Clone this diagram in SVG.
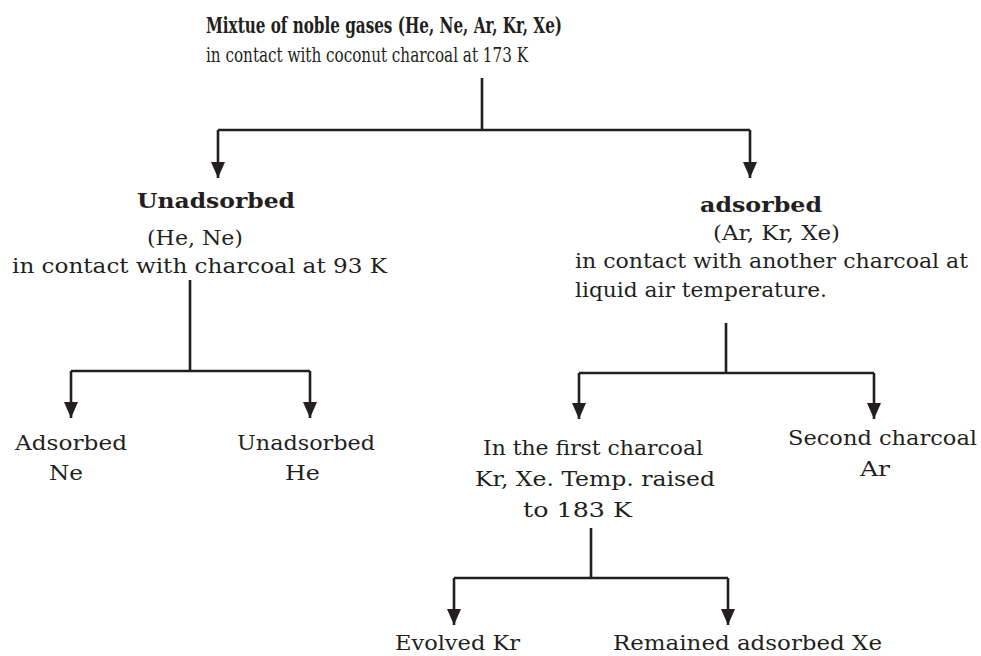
<svg xmlns="http://www.w3.org/2000/svg" width="981" height="656" viewBox="0 0 981 656">
<defs>
<style>
.t{font-family:"DejaVu Serif","Liberation Serif",serif;font-stretch:condensed;font-size:20px;fill:#231f20;}
.b{font-family:"DejaVu Serif","Liberation Serif",serif;font-stretch:condensed;font-size:21px;font-weight:bold;fill:#231f20;}
.c{fill:none;stroke:#231f20;stroke-width:2.6;}
</style>
<marker id="ah" markerUnits="userSpaceOnUse" markerWidth="16" markerHeight="14" viewBox="0 0 16 14" refX="16" refY="7" orient="auto">
<path d="M0 0 L16 7 L0 14 Z" fill="#231f20"/>
</marker>
</defs>
<rect width="981" height="656" fill="#fff"/>
<g id="connectors">
<path class="c" d="M482 78 V130"/>
<path class="c" d="M218 130 H750"/>
<path class="c" d="M218 130 V178" marker-end="url(#ah)"/>
<path class="c" d="M750 130 V178" marker-end="url(#ah)"/>
<path class="c" d="M190 280 V371"/>
<path class="c" d="M71 371 H310"/>
<path class="c" d="M71 371 V418" marker-end="url(#ah)"/>
<path class="c" d="M310 371 V418" marker-end="url(#ah)"/>
<path class="c" d="M726 323 V373"/>
<path class="c" d="M579 373 H874"/>
<path class="c" d="M579 373 V419" marker-end="url(#ah)"/>
<path class="c" d="M874 373 V419" marker-end="url(#ah)"/>
<path class="c" d="M591 528 V578"/>
<path class="c" d="M454 578 H728"/>
<path class="c" d="M454 578 V625" marker-end="url(#ah)"/>
<path class="c" d="M728 578 V625" marker-end="url(#ah)"/>
</g>
<g id="root">
<text class="b" x="206" y="33" style="font-size:23px" textLength="356" lengthAdjust="spacingAndGlyphs">Mixtue of noble gases (He, Ne, Ar, Kr, Xe)</text>
<text class="t" x="206" y="62" textLength="322" lengthAdjust="spacingAndGlyphs">in contact with coconut charcoal at 173 K</text>
</g>
<g id="unadsorbed">
<text class="b" x="137" y="208" textLength="158" lengthAdjust="spacingAndGlyphs">Unadsorbed</text>
<text class="t" x="147" y="245" textLength="96" lengthAdjust="spacingAndGlyphs">(He, Ne)</text>
<text class="t" x="12" y="273" textLength="375" lengthAdjust="spacingAndGlyphs">in contact with charcoal at 93 K</text>
</g>
<g id="adsorbed">
<text class="b" x="700" y="212" textLength="122" lengthAdjust="spacingAndGlyphs">adsorbed</text>
<text class="t" x="713" y="240" textLength="127" lengthAdjust="spacingAndGlyphs">(Ar, Kr, Xe)</text>
<text class="t" x="575" y="268" textLength="393" lengthAdjust="spacingAndGlyphs">in contact with another charcoal at</text>
<text class="t" x="575" y="297" textLength="252" lengthAdjust="spacingAndGlyphs">liquid air temperature.</text>
</g>
<g id="adsorbed-ne">
<text class="t" x="15" y="450" textLength="112" lengthAdjust="spacingAndGlyphs">Adsorbed</text>
<text class="t" x="49" y="480" textLength="34" lengthAdjust="spacingAndGlyphs">Ne</text>
</g>
<g id="unadsorbed-he">
<text class="t" x="237" y="450" textLength="138" lengthAdjust="spacingAndGlyphs">Unadsorbed</text>
<text class="t" x="285" y="480" textLength="35" lengthAdjust="spacingAndGlyphs">He</text>
</g>
<g id="first-charcoal">
<text class="t" x="483" y="455" textLength="220" lengthAdjust="spacingAndGlyphs">In the first charcoal</text>
<text class="t" x="475" y="486" textLength="240" lengthAdjust="spacingAndGlyphs">Kr, Xe. Temp. raised</text>
<text class="t" x="523" y="517" textLength="109" lengthAdjust="spacingAndGlyphs">to 183 K</text>
</g>
<g id="second-charcoal">
<text class="t" x="788" y="445" textLength="189" lengthAdjust="spacingAndGlyphs">Second charcoal</text>
<text class="t" x="860" y="476" textLength="30" lengthAdjust="spacingAndGlyphs">Ar</text>
</g>
<g id="evolved-kr">
<text class="t" x="395" y="650" textLength="125" lengthAdjust="spacingAndGlyphs">Evolved Kr</text>
</g>
<g id="remained-xe">
<text class="t" x="613" y="650" textLength="269" lengthAdjust="spacingAndGlyphs">Remained adsorbed Xe</text>
</g>
</svg>
